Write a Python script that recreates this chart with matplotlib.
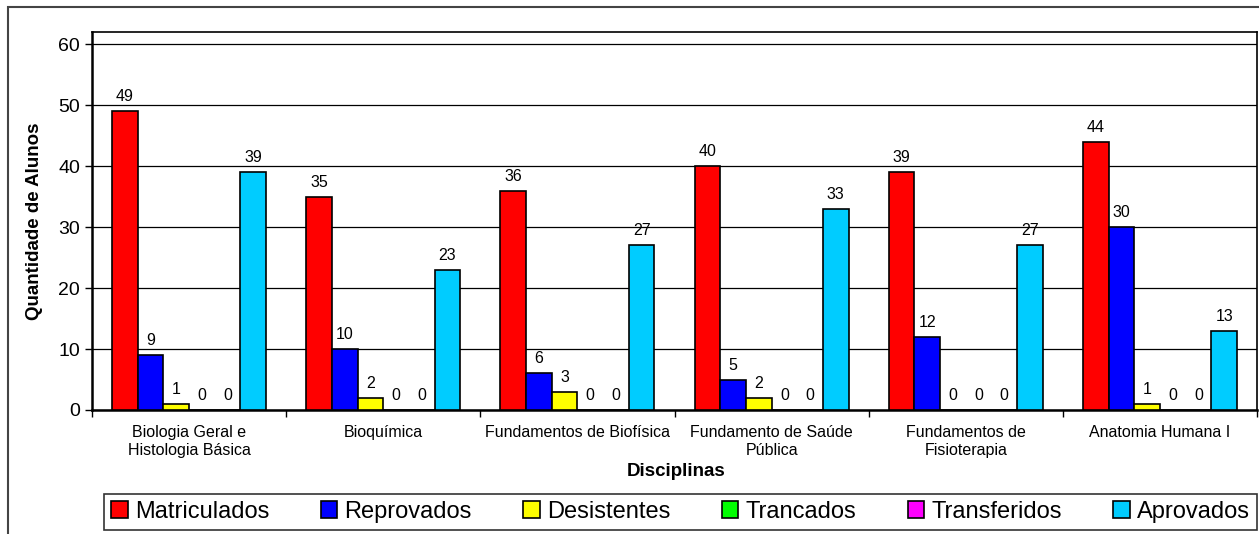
import numpy as np
import matplotlib
matplotlib.use('Agg')
import matplotlib.pyplot as plt
from matplotlib.patches import Rectangle

plt.rcParams['font.family'] = ['Liberation Sans', 'DejaVu Sans']

# Data
disciplinas = ['Biologia Geral e\nHistologia Básica', 'Bioquímica', 'Fundamentos de Biofísica',
               'Fundamento de Saúde\nPública', 'Fundamentos de\nFisioterapia', 'Anatomia Humana I']
series = ['Matriculados', 'Reprovados', 'Desistentes', 'Trancados', 'Transferidos', 'Aprovados']
matriculados = [49, 35, 36, 40, 39, 44]
reprovados = [9, 10, 6, 5, 12, 30]
desistentes = [1, 2, 3, 2, 0, 1]
trancados = [0, 0, 0, 0, 0, 0]
transferidos = [0, 0, 0, 0, 0, 0]
aprovados = [39, 23, 27, 33, 27, 13]
values = [matriculados, reprovados, desistentes, trancados, transferidos, aprovados]
colors = ['#FF0000', '#0000FF', '#FFFF00', '#00FF00', '#FF00FF', '#00CCFF']

fig = plt.figure(figsize=(12.59, 5.34), dpi=100)
ax = fig.add_axes([92/1259, 1-410/534, (1257-92)/1259, (410-32)/534])

# outer frame
fig.patches.append(Rectangle((8/1259, -0.1), 1.2, 1-7/534+0.1, transform=fig.transFigure,
                             fill=False, edgecolor='#444444', lw=1.5))

w = 0.1323
x = np.arange(len(disciplinas)) + 0.5
for j, (name, vals, c) in enumerate(zip(series, values, colors)):
    pos = x + (j-2.5)*w
    ax.bar(pos, vals, w, color=c, edgecolor='black', linewidth=1.2, label=name, zorder=3)
    for p, v in zip(pos, vals):
        ax.annotate(str(v), (p, v), xytext=(0, 5), textcoords='offset points',
                    ha='center', va='bottom', fontsize=11.5)

ax.set_xlim(0, 6)
ax.set_ylim(0, 62)
ax.set_yticks(np.arange(0, 61, 10))
ax.tick_params(axis='y', labelsize=14, length=5, width=1)
ax.set_xticks(np.arange(0, 7))
ax.set_xticklabels([])
ax.set_xticks(x, minor=True)
ax.set_xticklabels(disciplinas, minor=True, fontsize=11.5)
ax.tick_params(axis='x', which='major', length=5, width=1, direction='out')
ax.tick_params(axis='x', which='minor', length=0, pad=11)
ax.yaxis.grid(True, color='black', lw=0.9, zorder=0)
ax.set_axisbelow(True)
for s in ['left', 'bottom']:
    ax.spines[s].set_linewidth(1.8)
for s in ['top', 'right']:
    ax.spines[s].set_linewidth(1.2)

fig.text(35/1259, 1-221/534, 'Quantidade de Alunos', fontsize=13.5, fontweight='bold',
         rotation=90, ha='center', va='center')
fig.text(676/1259, 1-472/534, 'Disciplinas', fontsize=13.5, fontweight='bold', ha='center', va='center')

leg = fig.legend(loc='lower left', bbox_to_anchor=(104/1259, 4/534, (1257-104)/1259, (530-489)/534),
                 mode='expand', ncol=6, fontsize=17, frameon=True, fancybox=False,
                 handlelength=0.7, handleheight=0.7, handletextpad=0.3, borderaxespad=0,
                 borderpad=0.3)
leg.get_frame().set_edgecolor('black')
leg.get_frame().set_linewidth(1.2)

fig.savefig('out.png', dpi=100)
